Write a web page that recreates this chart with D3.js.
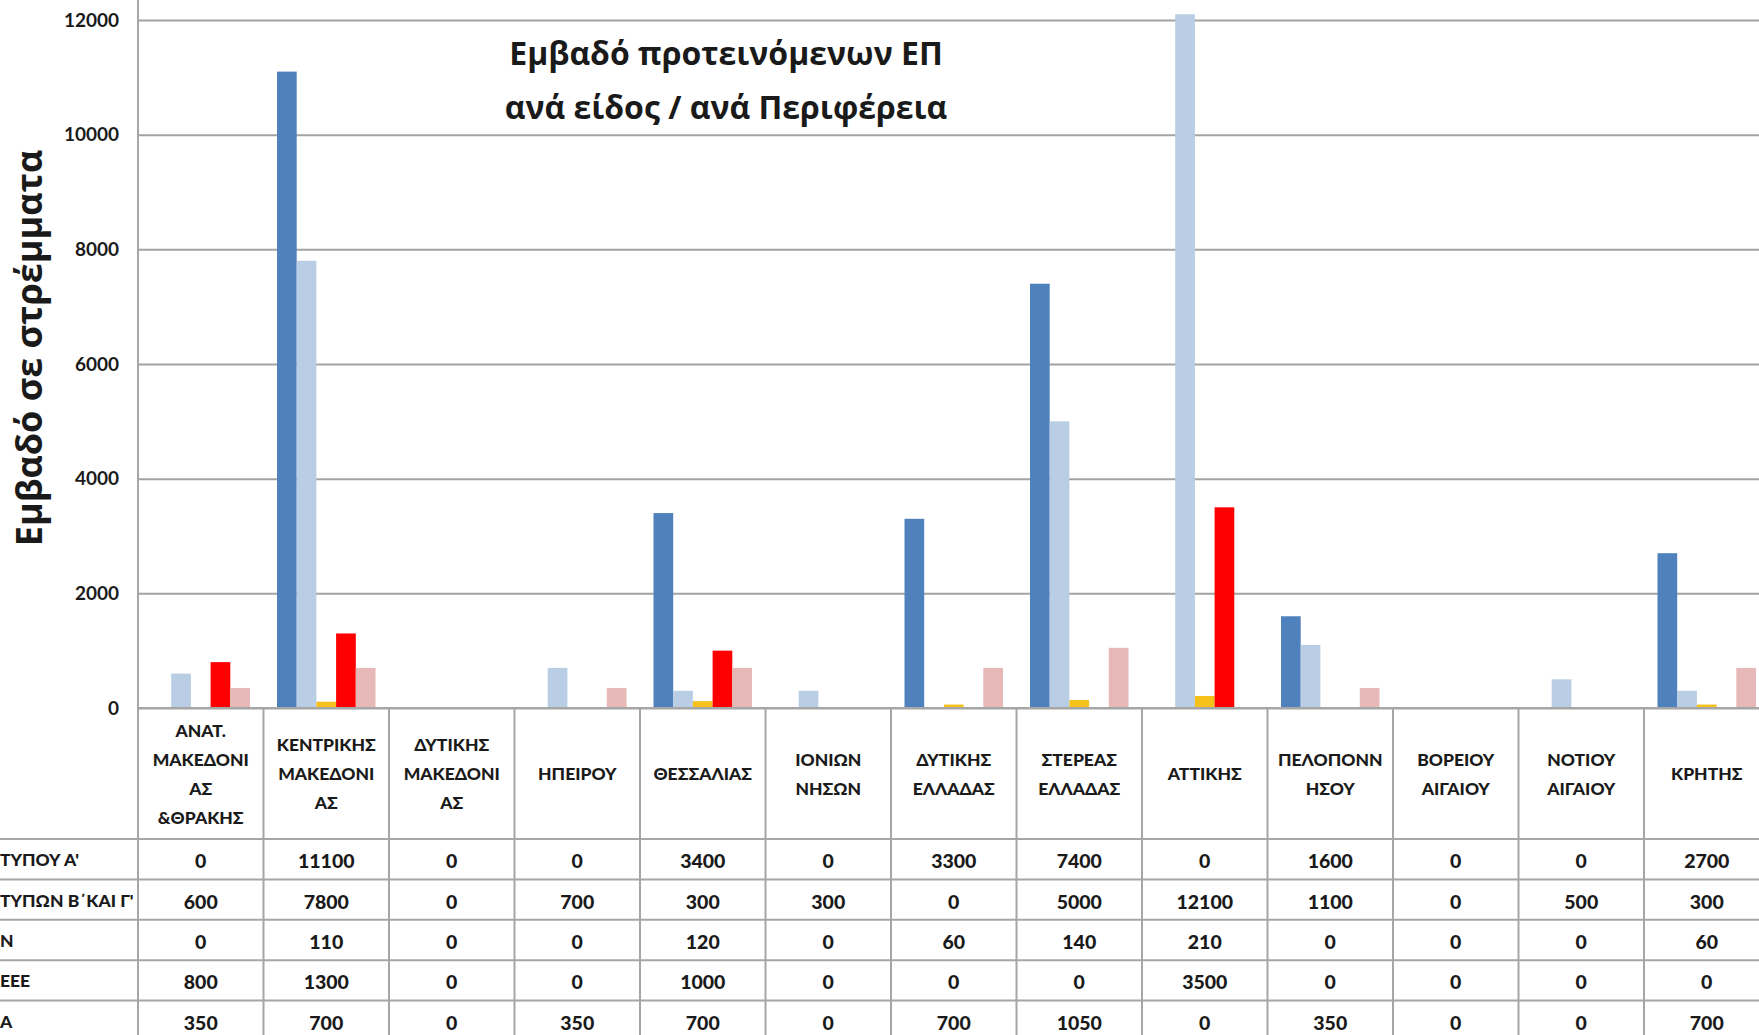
<!DOCTYPE html>
<html>
<head>
<meta charset="utf-8">
<script src="https://cdn.jsdelivr.net/npm/d3@7"></script>
<style>
body{margin:0;background:#fff;overflow:hidden}
text{font-family:Lato,"Open Sans",sans-serif;font-weight:bold;fill:#1a1a1a}
</style>
</head>
<body>
<svg id="chart" width="1759" height="1035"></svg>
<script>
// regions (header text wraps the way the spreadsheet did)
let regions=["ΑΝΑΤ.\nΜΑΚΕΔΟΝΙ\nΑΣ\n&ΘΡΑΚΗΣ","ΚΕΝΤΡΙΚΗΣ\nΜΑΚΕΔΟΝΙ\nΑΣ","ΔΥΤΙΚΗΣ\nΜΑΚΕΔΟΝΙ\nΑΣ","ΗΠΕΙΡΟΥ","ΘΕΣΣΑΛΙΑΣ",
	"ΙΟΝΙΩΝ\nΝΗΣΩΝ","ΔΥΤΙΚΗΣ\nΕΛΛΑΔΑΣ","ΣΤΕΡΕΑΣ\nΕΛΛΑΔΑΣ","ΑΤΤΙΚΗΣ","ΠΕΛΟΠΟΝΝ\nΗΣΟΥ","ΒΟΡΕΙΟΥ\nΑΙΓΑΙΟΥ","ΝΟΤΙΟΥ\nΑΙΓΑΙΟΥ","ΚΡΗΤΗΣ"]
// row labels, only the part that shows in the picture
let rowLabels=["ΤΥΠΟΥ Α'","ΤΥΠΩΝ Β΄ΚΑΙ Γ'","Ν","ΕΕΕ","Α"]
let typeA   =[0,11100,0,0,3400,0,3300,7400,0,1600,0,0,2700]
let typeBC  =[600,7800,0,700,300,300,0,5000,12100,1100,0,500,300]
let series3 =[0,110,0,0,120,0,60,140,210,0,0,0,60]
let series4 =[800,1300,0,0,1000,0,0,0,3500,0,0,0,0]
let series5 =[350,700,0,350,700,0,700,1050,0,350,0,0,700]
let yTicks=[0,2000,4000,6000,8000,10000,12000]
let colors=["#4f81bd","#b9cde5","#f7c11b","#ff0000","#e6b9b8"]

let allSeries=[typeA,typeBC,series3,series4,series5]

let svg=d3.select("#chart")
let axisX=138, colW=125.5, zeroY=708, headBottom=839, rowH=40.4

let x0=d3.scaleBand()
	.domain(regions)
	.range([axisX,axisX+colW*regions.length])
let x1=d3.scaleBand()
	.domain(d3.range(allSeries.length))
	.range([13.5,colW-13.5])
let y=d3.scaleLinear()
	.domain([0,12000])
	.range([zeroY,20])

// gridlines
svg.append("g")
	.call(d3.axisLeft(y).tickValues(yTicks).tickSize(-2000).tickFormat(""))
	.attr("transform","translate("+axisX+",0)")
	.call(g=>g.select(".domain").remove())
	.selectAll("line").attr("stroke","#a3a3a3").attr("stroke-width",2)

// tick labels
svg.append("g").selectAll("text")
	.data(yTicks).enter().append("text")
	.attr("x",119).attr("y",d=>y(d)+6.5)
	.attr("text-anchor","end")
	.style("font-size","19px")
	.text(d=>d)

// bars
let groups=svg.append("g").selectAll("g")
	.data(regions).enter().append("g")
	.attr("transform",d=>"translate("+x0(d)+",0)")
groups.selectAll("rect")
	.data((d,i)=>allSeries.map((s,k)=>({k:k,v:s[i]})))
	.enter().append("rect")
	.attr("x",d=>x1(d.k))
	.attr("width",x1.bandwidth())
	.attr("y",d=>y(d.v))
	.attr("height",d=>zeroY-y(d.v))
	.attr("fill",d=>colors[d.k])

// table lines
let tbl=svg.append("g").attr("stroke","#a6a6a6").attr("stroke-width",2)
tbl.append("line").attr("x1",axisX).attr("x2",1759).attr("y1",zeroY).attr("y2",zeroY)
d3.range(rowLabels.length+1).forEach(r=>{
	let yy=headBottom+r*rowH
	tbl.append("line").attr("x1",0).attr("x2",1759).attr("y1",yy).attr("y2",yy)
})
tbl.append("line").attr("x1",axisX).attr("x2",axisX).attr("y1",0).attr("y2",1035)
regions.forEach(d=>{
	let xx=x0(d)+colW
	tbl.append("line").attr("x1",xx).attr("x2",xx).attr("y1",zeroY).attr("y2",1035)
})

// header cells
regions.forEach(d=>{
	let lines=d.split("\n")
	let cy=774-(lines.length-1)*29/2
	let t=svg.append("text")
		.attr("text-anchor","middle")
		.style("font-size","17.5px")
		.style("font-weight","900")
	lines.forEach((l,j)=>{
		t.append("tspan").attr("x",x0(d)+colW/2).attr("y",cy+j*29+6).text(l)
	})
})

// value cells and row labels
allSeries.forEach((s,r)=>{
	let cy=headBottom+rowH*(r+0.5)+9
	svg.append("text").attr("x",0).attr("y",cy-2)
		.style("font-size","17.5px").style("font-weight","900").text(rowLabels[r])
	svg.append("g").selectAll("text")
		.data(s).enter().append("text")
		.attr("x",(d,i)=>x0(regions[i])+colW/2)
		.attr("y",cy)
		.attr("text-anchor","middle")
		.style("font-size","19.5px")
		.style("font-weight","900")
		.text(d=>d)
})

// titles
svg.append("text")
	.attr("transform","translate(42,348) rotate(-90)")
	.attr("text-anchor","middle")
	.style("font-family","'Open Sans',sans-serif")
	.style("font-size","36px")
	.text("Εμβαδό σε στρέμματα")
let title=svg.append("text").attr("text-anchor","middle")
	.style("font-family","'Open Sans',sans-serif")
	.style("font-size","32px")
title.append("tspan").attr("x",726).attr("y",65).text("Εμβαδό προτεινόμενων ΕΠ")
title.append("tspan").attr("x",726).attr("y",119).text("ανά είδος / ανά Περιφέρεια")
</script>
</body>
</html>
